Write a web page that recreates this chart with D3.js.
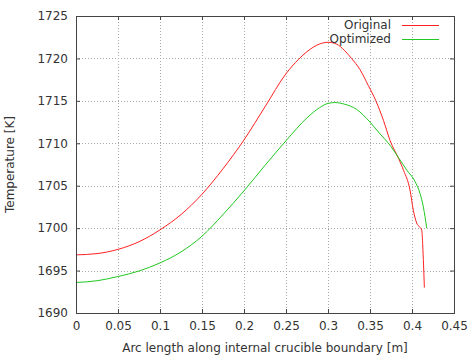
<!DOCTYPE html>
<html><head><meta charset="utf-8">
<script src="https://cdn.jsdelivr.net/npm/d3@7"></script>
<style>
html,body{margin:0;padding:0;background:#fff;}
text{font-family:"DejaVu Sans",sans-serif;font-size:12px;fill:#333;}
</style></head>
<body><svg id="c" width="472" height="360"></svg>
<script>
const seriesNames = ["Original", "Optimized"];
const seriesColors = ["#ff2020", "#20c820"];
const originalX = [0,0.025,0.05,0.075,0.1,0.125,0.15,0.175,0.2,0.225,0.25,0.265,0.275,0.29,0.3,0.31,0.32,0.328,0.338,0.348,0.357,0.366,0.374,0.384,0.39,0.3976,0.4016,0.4056,0.4095,0.4115,0.4135,0.4147];
const originalT = [1696.85,1697.0,1697.5,1698.4,1699.8,1701.6,1704.0,1707.0,1710.4,1714.3,1718.2,1719.9,1720.8,1721.7,1721.9,1721.7,1720.9,1720.0,1718.7,1716.8,1715.0,1712.7,1710.3,1708.2,1706.8,1704.5,1702.1,1700.6,1700.1,1699.8,1696.3,1693.0];
const optimizedX = [0,0.025,0.05,0.075,0.1,0.125,0.15,0.175,0.2,0.225,0.25,0.275,0.29,0.3,0.308,0.32,0.334,0.35,0.362,0.372,0.384,0.3937,0.4036,0.4095,0.4135,0.4155,0.4175];
const optimizedT = [1693.6,1693.8,1694.3,1694.95,1695.9,1697.2,1699.05,1701.6,1704.4,1707.4,1710.3,1713.0,1714.2,1714.7,1714.8,1714.6,1714.0,1712.5,1711.1,1710.0,1708.3,1706.85,1705.5,1704.1,1702.5,1701.35,1700.0];
const xTicks = [0,0.05,0.1,0.15,0.2,0.25,0.3,0.35,0.4,0.45];
const yTicks = [1690,1695,1700,1705,1710,1715,1720,1725];
const xTitle = "Arc length along internal crucible boundary [m]";
const yTitle = "Temperature [K]";

const svg = d3.select("#c");
const L = 76, R = 454, T = 16, B = 313;
const x = d3.scaleLinear().domain([0, 0.45]).range([L, R]);
const y = d3.scaleLinear().domain([1690, 1725]).range([B, T]);

// grid
const g = svg.append("g");
g.selectAll("line.gx").data(xTicks.slice(1, -1)).join("line")
  .attr("x1", d => Math.round(x(d)) + 0.5).attr("x2", d => Math.round(x(d)) + 0.5)
  .attr("y1", T).attr("y2", B)
  .attr("stroke", "#a8a8a8").attr("stroke-width", 1).attr("stroke-dasharray", "1,2");
g.selectAll("line.gy").data(yTicks.slice(1, -1)).join("line")
  .attr("y1", d => Math.round(y(d)) + 0.5).attr("y2", d => Math.round(y(d)) + 0.5)
  .attr("x1", L).attr("x2", R)
  .attr("stroke", "#a8a8a8").attr("stroke-width", 1).attr("stroke-dasharray", "1,2");

// axes
const fmtX = d => d3.format("")(d);
const ax = d3.axisBottom(x).tickValues(xTicks).tickSize(-4).tickPadding(8).tickFormat(fmtX);
const axTop = d3.axisTop(x).tickValues(xTicks).tickSize(-4).tickFormat("");
const ay = d3.axisLeft(y).tickValues(yTicks).tickSize(-4).tickPadding(8).tickFormat(d3.format("d"));
const ayR = d3.axisRight(y).tickValues(yTicks).tickSize(-4).tickFormat("");
function style(sel){
  sel.select(".domain").remove();
  sel.selectAll("line").attr("stroke", "#444");
  sel.selectAll("text").attr("fill", "#333").style("font-family", "DejaVu Sans, sans-serif").style("font-size", "12px");
}
svg.append("g").attr("transform", `translate(0,${B})`).call(ax).call(style);
svg.append("g").attr("transform", `translate(0,${T})`).call(axTop).call(style);
svg.append("g").attr("transform", `translate(${L},0)`).call(ay).call(style);
svg.append("g").attr("transform", `translate(${R},0)`).call(ayR).call(style);

// lines
const line = d3.line().x(d => x(d[0])).y(d => y(d[1])).curve(d3.curveMonotoneX);
const data = [d3.zip(originalX, originalT), d3.zip(optimizedX, optimizedT)];
svg.selectAll("path.s").data(data).join("path")
  .attr("d", line).attr("fill", "none")
  .attr("stroke", (d, i) => seriesColors[i]).attr("stroke-width", 1);

// border
svg.append("rect").attr("x", L + 0.5).attr("y", T + 0.5).attr("width", R - L).attr("height", B - T)
  .attr("fill", "none").attr("stroke", "#444").attr("stroke-width", 1);

// legend
seriesNames.forEach((n, i) => {
  const yy = 25 + i * 14;
  svg.append("text").attr("x", 391).attr("y", yy + 4).attr("text-anchor", "end").text(n);
  svg.append("line").attr("x1", 402).attr("x2", 439).attr("y1", yy + 0.5).attr("y2", yy + 0.5)
    .attr("stroke", seriesColors[i]).attr("stroke-width", 1);
});

// titles
svg.append("text").attr("x", (L + R) / 2).attr("y", 352).attr("text-anchor", "middle").text(xTitle);
svg.append("text").attr("transform", `translate(14,${(T + B) / 2}) rotate(-90)`).attr("text-anchor", "middle").text(yTitle);
</script></body></html>
